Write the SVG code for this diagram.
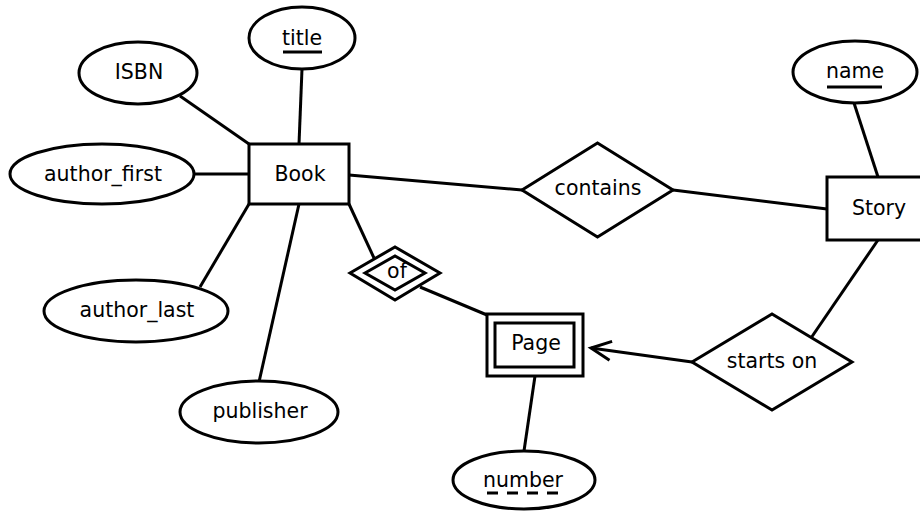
<svg xmlns="http://www.w3.org/2000/svg" width="920" height="512" viewBox="0 0 920 512">
<style>
.s{fill:#fff;stroke:#000;stroke-width:3}
.c{fill:none;stroke:#000;stroke-width:3}
text{font-family:"DejaVu Sans",sans-serif;font-size:20.5px;fill:#000;text-anchor:middle}
.u{stroke:#000;stroke-width:3}
</style>
<defs>
<marker id="arr" markerUnits="userSpaceOnUse" markerWidth="30" markerHeight="30" refX="22" refY="10" orient="auto" viewBox="0 0 30 20" overflow="visible">
<path d="M2,0.5 L22,10 L2,19.5" fill="none" stroke="#000" stroke-width="3"/>
</marker>
</defs>
<rect width="920" height="512" fill="#fff"/>
<g id="connectors">
<line class="c" x1="180" y1="96" x2="249" y2="144"/>
<line class="c" x1="302" y1="69" x2="299" y2="144"/>
<line class="c" x1="194" y1="174" x2="249" y2="174"/>
<line class="c" x1="249" y1="204" x2="200" y2="287"/>
<line class="c" x1="299" y1="204" x2="259" y2="382"/>
<line class="c" x1="349" y1="204" x2="374" y2="258"/>
<line class="c" x1="420" y1="287" x2="487" y2="315"/>
<line class="c" x1="349" y1="175" x2="522" y2="190"/>
<line class="c" x1="673" y1="190" x2="827" y2="209"/>
<line class="c" x1="854" y1="103" x2="878" y2="177"/>
<line class="c" x1="878" y1="240" x2="811" y2="338"/>
<line class="c" x1="692" y1="362" x2="591" y2="348" marker-end="url(#arr)"/>
<line class="c" x1="535" y1="376" x2="524" y2="451"/>
</g>
<g id="book"><rect class="s" x="249" y="144" width="100" height="60"/><text x="300" y="181">Book</text></g>
<g id="title"><ellipse class="s" cx="302" cy="38" rx="53" ry="31"/><text x="302" y="45">title</text><line class="u" x1="283" y1="52" x2="322" y2="52"/></g>
<g id="isbn"><ellipse class="s" cx="138" cy="73" rx="59" ry="31"/><text x="139" y="79">ISBN</text></g>
<g id="author_first"><ellipse class="s" cx="102" cy="174" rx="92" ry="30"/><text x="103" y="181">author_first</text></g>
<g id="author_last"><ellipse class="s" cx="136" cy="311" rx="92" ry="31"/><text x="137" y="317">author_last</text></g>
<g id="publisher"><ellipse class="s" cx="259" cy="412" rx="79" ry="31"/><text x="260" y="418">publisher</text></g>
<g id="contains"><polygon class="s" points="522,190 597.5,143 673,190 597.5,237"/><text x="598" y="195">contains</text></g>
<g id="story"><rect class="s" x="827" y="177" width="102" height="63"/><text x="879" y="215">Story</text></g>
<g id="name"><ellipse class="s" cx="855" cy="72" rx="62" ry="31"/><text x="855" y="78">name</text><line class="u" x1="827" y1="87" x2="882" y2="87"/></g>
<g id="starts_on"><polygon class="s" points="692,362 772,314 852,362 772,410"/><text x="772" y="368">starts on</text></g>
<g id="of"><polygon class="s" points="350,273 395,247 440,273 395,300"/><polygon class="s" points="365,273 395,256 425,273 395,290"/><text x="397" y="278">of</text></g>
<g id="page"><rect class="s" x="487" y="314" width="96" height="62"/><rect class="s" x="495" y="323" width="79" height="44"/><text x="536" y="350">Page</text></g>
<g id="number"><ellipse class="s" cx="524" cy="480" rx="71" ry="29"/><text x="523" y="487">number</text><line class="u" x1="487" y1="493" x2="558" y2="493" stroke-dasharray="11,9"/></g>
</svg>
